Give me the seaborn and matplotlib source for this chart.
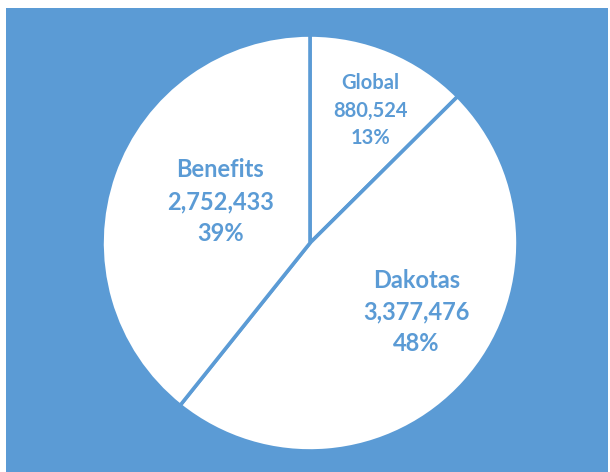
import matplotlib
matplotlib.use("Agg")
import matplotlib.pyplot as plt
import numpy as np
import seaborn as sns

# === Data ===
categories = ["Global", "Dakotas", "Benefits"]
values = [880524, 3377476, 2752433]

# === Style ===
BLUE = "#5B9BD5"
WHITE = "#FFFFFF"

# label placement (fraction of radius, angle offset from wedge mid-angle in deg)
label_dist = [0.70, 0.61, 0.475]
label_shift = [-2.0, 9.0, -5.5]
label_size = [14.5, 17, 17]

sns.set_theme(style="white")
plt.rcParams["font.family"] = ["Lato", "DejaVu Sans"]

fig = plt.figure(figsize=(6.10, 4.72), dpi=100)
fig.patch.set_facecolor(WHITE)
ax = fig.add_axes([6 / 610, 0, 602 / 610, 464 / 472])

R = 208
wedges, _ = ax.pie(
    values,
    radius=R,
    startangle=90,
    counterclock=False,
    colors=[WHITE] * len(values),
    wedgeprops=dict(edgecolor=BLUE, linewidth=2.6),
)

total = sum(values)
for w, name, val, d, s, fs in zip(wedges, categories, values,
                                   label_dist, label_shift, label_size):
    mid = np.deg2rad((w.theta1 + w.theta2) / 2 + s)
    x, y = d * R * np.cos(mid), d * R * np.sin(mid)
    pct = round(100 * val / total)
    ax.text(x, y, f"{name}\n{val:,}\n{pct}%", ha="center", va="center",
            color=BLUE, fontsize=fs, fontweight="bold", linespacing=1.45)

ax.set_xlim(-304, 298)
ax.set_ylim(-229, 235)
ax.set_aspect("equal", adjustable="box")
ax.set_frame_on(True)
ax.set_facecolor(BLUE)
for sp in ax.spines.values():
    sp.set_visible(False)
ax.set_xticks([])
ax.set_yticks([])

fig.savefig("out.png", dpi=100, facecolor=WHITE)
